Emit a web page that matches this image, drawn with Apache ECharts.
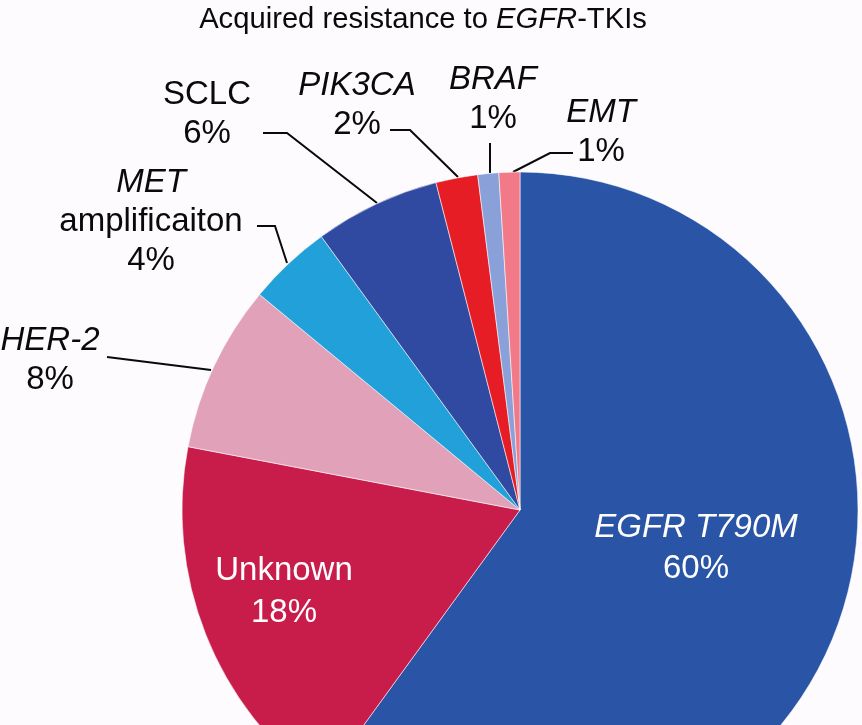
<!DOCTYPE html>
<html>
<head>
<meta charset="utf-8">
<script src="https://cdn.jsdelivr.net/npm/echarts@6/dist/echarts.min.js"></script>
<style>
html,body{margin:0;padding:0;background:#fdfbfd;}
#c{width:862px;height:725px;}
</style>
</head>
<body>
<div id="c"></div>
<script>
// Data
const categories = ['EGFR T790M', 'Unknown', 'HER-2', 'MET amplificaiton', 'SCLC', 'PIK3CA', 'BRAF', 'EMT'];
const values = [60, 18, 8, 4, 6, 2, 1, 1];
const colors = ['#2a54a6', '#c81d4b', '#e1a2b9', '#21a0da', '#2f4aa0', '#e71d26', '#8aa0d8', '#f27a88'];

// Label text pieces (italic gene names)
const labelTexts = [
  '{ii|EGFR T790M}\n{w|60%}',
  '{w|Unknown}\n{w|18%}',
  '{i|HER-2}\n{n|8%}',
  '{i|MET}\n{n|amplificaiton}\n{n|4%}',
  '{n|SCLC}\n{n|6%}',
  '{i|PIK3CA}\n{n|2%}',
  '{i|BRAF}\n{n|1%}',
  '{i|EMT}\n{n|1%}'
];

// Label anchor positions (annotation layout)
const labelPos = [[696, 549], [284, 592], [50, 360], [151, 222], [207, 114], [357, 105], [493, 99], [601, 132]];
const leaderLines = [
  null, null,
  [[107, 357], [211, 370]],
  [[257, 226], [275, 226], [287, 263]],
  [[263, 133], [287, 133], [377, 203]],
  [[390, 130], [410, 130], [458, 177]],
  [[490, 143], [490, 173]],
  [[573, 153], [550, 153], [513, 172]]
];

const FONT = '"Liberation Sans", Arial, sans-serif';
const FS = 33;
const rich = {
  n: {fontFamily: FONT, fontSize: FS, color: '#0a0a0a', lineHeight: 39},
  i: {fontFamily: FONT, fontSize: FS, fontStyle: 'italic', color: '#0a0a0a', lineHeight: 39},
  w: {fontFamily: FONT, fontSize: FS, color: '#fff', lineHeight: 42},
  ii: {fontFamily: FONT, fontSize: FS, fontStyle: 'italic', color: '#fff', lineHeight: 39}
};

const chart = echarts.init(document.getElementById('c'), null, {renderer: 'canvas'});
chart.setOption({
  backgroundColor: '#fdfbfd',
  animation: false,
  title: {
    text: 'Acquired resistance to {i|EGFR}-TKIs',
    left: 418,
    textAlign: 'center',
    top: 0,
    textStyle: {
      fontFamily: FONT, fontSize: 29.2, fontWeight: 'normal', color: '#0a0a0a',
      rich: {i: {fontFamily: FONT, fontSize: 29.2, fontStyle: 'italic', color: '#0a0a0a'}}
    }
  },
  series: [{
    type: 'pie',
    center: [520, 510],
    radius: 338,
    startAngle: 90,
    clockwise: true,
    avoidLabelOverlap: false,
    itemStyle: {borderColor: 'rgba(255,255,255,0.55)', borderWidth: 1},
    label: {
      show: true,
      position: 'outside',
      formatter: p => labelTexts[p.dataIndex],
      rich: rich,
      align: 'center'
    },
    labelLine: {show: true, lineStyle: {color: '#0a0a0a', width: 2}},
    labelLayout: function (params) {
      const i = params.dataIndex;
      const r = {x: labelPos[i][0], y: labelPos[i][1], align: 'center', verticalAlign: 'middle'};
      if (leaderLines[i]) r.labelLinePoints = leaderLines[i];
      return r;
    },
    data: categories.map((c, i) => ({
      name: c,
      value: values[i],
      itemStyle: {color: colors[i]},
      labelLine: {show: !!leaderLines[i]}
    }))
  }]
});
</script>
</body>
</html>
